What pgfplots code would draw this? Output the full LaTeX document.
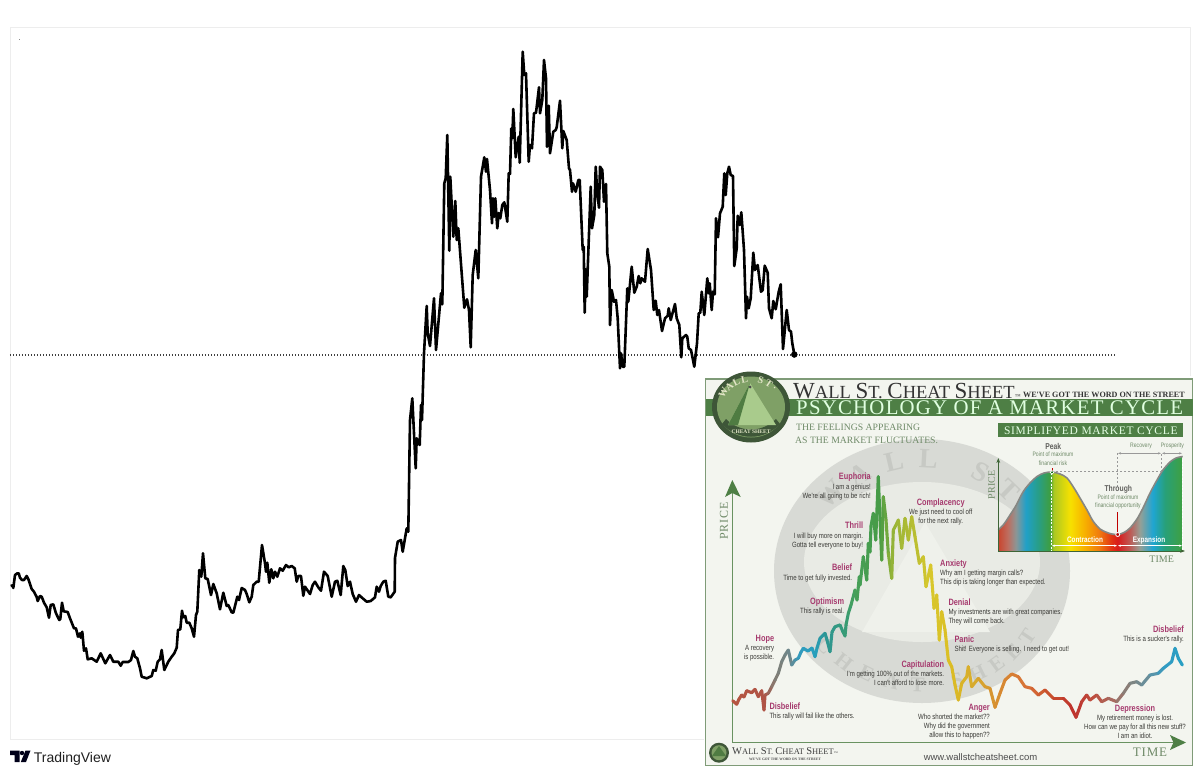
\documentclass[border=0pt]{standalone}
\usepackage{fontspec}
\usepackage{pgfplots}
\pgfplotsset{compat=1.18}
\usetikzlibrary{arrows.meta}
\setmainfont{Liberation Sans}
\newfontfamily\ser{Liberation Serif}
\newfontfamily\serl[LetterSpace=6]{Liberation Serif}
\newfontfamily\serw[LetterSpace=14]{Liberation Serif}
\newfontfamily\nar[FakeStretch=0.80]{Liberation Sans}
\newcommand{\fs}[1]{\fontsize{#1}{#1}\selectfont}
\definecolor{pnk}{HTML}{A63A6E}
\definecolor{ink}{HTML}{3A3A36}
\definecolor{gband}{HTML}{4E7F45}
\definecolor{gtxt}{HTML}{6F8A68}
\definecolor{gframe}{HTML}{7F9B78}
\definecolor{panel}{HTML}{F3F5EF}
\definecolor{lgring}{HTML}{3E5638}
\definecolor{lgin}{HTML}{7FA066}
\definecolor{lgpyr}{HTML}{A9CB8C}
\definecolor{lgface}{HTML}{4F7C42}
\definecolor{lgcream}{HTML}{E3E6C8}
\pgfdeclarehorizontalshading{cyc}{100bp}{
 rgb(0bp)=(.788,.271,.184);
 rgb(25bp)=(.788,.271,.184);
 rgb(27.6bp)=(.745,.431,.373);
 rgb(29.8bp)=(.549,.588,.588);
 rgb(32.5bp)=(.125,.627,.784);
 rgb(35.8bp)=(.157,.62,.529);
 rgb(39bp)=(.243,.62,.251);
 rgb(40bp)=(.667,.784,.137);
 rgb(44.5bp)=(.969,.882,0);
 rgb(48.5bp)=(.969,.686,0);
 rgb(52.5bp)=(.941,.471,.059);
 rgb(55.8bp)=(.882,.196,.078);
 rgb(57.4bp)=(.847,.106,.106);
 rgb(60.7bp)=(.745,.353,.333);
 rgb(63.4bp)=(.588,.627,.588);
 rgb(66.9bp)=(.118,.647,.824);
 rgb(70.2bp)=(.157,.627,.471);
 rgb(75bp)=(.247,.627,.251);
 rgb(100bp)=(.247,.627,.251)}
\pgfplotsset{pix/.style={scale only axis,width=1180pt,height=712pt,anchor=south west,at={(10pt,-739pt)},
  xmin=10,xmax=1190,ymin=27,ymax=739,y dir=reverse,xtick=\empty,ytick=\empty}}
\newcommand{\ttl}[4]{\node[anchor=#3,inner sep=0,text=pnk,font=\nar\bfseries\fs{9.2}] at (#1,#2) {#4};}
\newcommand{\txt}[4]{\node[anchor=#3,inner sep=0,text=ink,font=\nar\fs{7.6}] at (#1,#2) {#4};}
\begin{document}
\begin{tikzpicture}[x=1pt,y=-1pt]
\path[use as bounding box] (0,0) rectangle (1200,774);
\begin{axis}[pix,axis line style={draw=black!7,line width=0.8pt}]
\addplot[black!75,line width=1.1pt,dash pattern=on 1.1pt off 1.9pt] coordinates {(10,355)(1116,355)};
\addplot[black,line width=2.6pt,line join=round] coordinates {
(10.7,586)(12.7,585.3)(13.3,588)(15,575)(17.3,573.3)(18.7,573.3)(20,577.7)(22,580)(24,580)(26.7,576)(28.7,580)(31.7,589)(34,591.7)(36.7,597)(37.7,601)(40,596)(41.7,596.7)(44,602.7)(46.7,607.3)(49,617.7)(50.7,605)(53.3,604.3)(56,613.3)(59.3,620)(60.3,619)(62,602.7)(63.7,611.3)(67.7,612)(70,618.3)(74,628.3)(76,628.3)(78,636.7)(80,633.3)(80.7,637.7)(82.3,631.7)(84,650.7)(86,648.3)(87.7,659.3)(91.7,658.3)(96.7,661.7)(100.7,653.3)(105.3,663.3)(110,655)(113.3,661.7)(118.3,661.7)(120.7,665.7)(122.7,662)(128.3,662)(131,660)(133.3,651)(135,656.7)(137.3,658.3)(140,668.3)(141.7,676.7)(146.7,678.3)(151.7,676)(153.3,670)(155.7,670.7)(157.7,661.7)(160,659.3)(161.7,650)(164.3,670)(166.7,665)(168.3,661.7)(171.7,656.7)(174.3,653.3)(176.7,647.7)(178,630)(180.3,629.3)(182,610.7)(183.3,617.3)(185.3,616)(186.7,622.7)(189.3,622.7)(191.7,628.3)(194,636.7)(196,615)(197.3,611.7)(199.3,570)(201.3,576.7)(203,553.3)(205.3,578.3)(207.7,579)(211,595)(213.3,584)(216.7,593.3)(220,609.3)(223.3,592.7)(226.7,606)(228.3,605)(231.7,612.3)(233.3,612.7)(237.3,596.7)(239,600)(241.7,588)(245,590)(246.7,594)(249.3,602.3)(251.7,596.7)(253.3,585)(256.7,581.7)(258.7,581.7)(262,545)(265,563.3)(266,571.7)(267.3,562.7)(269.3,582.7)(271.3,569.3)(273.3,578.3)(275,571.7)(277.3,576.7)(280,568.3)(282.7,570.7)(286,565)(288.7,567.3)(291.7,566)(294.7,568.3)(296.7,581.7)(298.3,576)(301,576)(303.3,595.7)(305,586.7)(307.3,590)(310,594)(312.7,585)(315,581.7)(318.3,587.3)(321,590.7)(324,571.7)(327.7,576)(331.7,596.7)(335,581.7)(337.3,580.7)(340.7,595)(343.3,566)(345.3,570)(347.7,586)(350,581.7)(352.7,594)(356,601.7)(359,595)(362.7,598.3)(366.7,601.7)(370.7,601)(375,597.3)(376.7,586.7)(379,591.7)(380.7,586)(383.3,581.7)(385.7,580.7)(388.3,596.7)(390.7,597.3)(394.7,591.7)(395,558)(397.7,541.7)(401,540)(402.7,551.7)(406.7,528.3)(408.3,531.7)(410,420)(412.3,398.3)(415.7,468.3)(416.7,438.3)(419.7,445)(421,405)(422,420)(424,353.3)(426.7,306)(427.7,333.3)(430,346)(434,298.3)(436,350)(441,293.3)(442.3,304.3)(444.3,183.3)(445.7,178.3)(447.3,135)(449.3,250.7)(450.3,176.7)(453.3,236.7)(455.3,201)(456.7,240)(458.3,228.3)(461.7,273.3)(464.3,307.7)(467,299.3)(469,310)(470.7,347.3)(472.7,275)(475.7,250)(478.3,278.3)(481,176.7)(484.3,157.3)(486,171.7)(487,159)(490,190)(492,223.3)(493,198.3)(494.3,216.7)(495.3,198.3)(497.3,228.3)(498.7,213)(500.3,218.3)(502.3,205)(504.3,202.3)(507.3,221.7)(508.7,173.3)(510,174)(511.3,128.3)(512.3,138.3)(513.3,109)(515.7,157.3)(518.7,136.7)(519.7,162.7)(522.7,51.7)(524.3,75)(526,73.3)(528.7,161.7)(530,145)(532,148.3)(534,113.3)(536,112.7)(539,87.3)(540,113.3)(542.3,100)(544,60)(546,78.3)(547,146.7)(548.7,105.7)(550,153.3)(553.3,131.7)(555.7,130)(556.7,127.3)(560,100.7)(562.3,148.3)(563.3,131)(566.7,140)(569,168.3)(570,170)(572,191.7)(573,183.3)(575.7,191.7)(578.3,180)(579.7,180)(582.7,250)(583.7,246.7)(584.7,312.7)(585.7,269.3)(586.7,296.7)(590.7,186.7)(592,228.3)(594.3,215)(595.7,166.7)(597.3,193.3)(599,207.7)(600,166.7)(602.3,170)(604,201.7)(606,184)(607.3,253.3)(609.3,266.7)(610,325)(611.7,290)(614,301.7)(616,300)(617.7,318.3)(620,368.3)(621,353.3)(622.7,366.7)(624.3,366.7)(627.3,288.3)(628.3,301.7)(631.7,266.7)(634.3,292.7)(636.7,286.7)(638.7,276)(640.3,283.3)(641.7,278.3)(645,281.7)(647.7,249)(651,270)(653.7,310)(655.7,300.7)(657.3,315)(659,310)(662,331)(665,318.3)(667.7,315.7)(668.7,308.3)(670.7,320)(675,304)(676.7,318.3)(679.3,325)(681.3,357.3)(682.3,338.3)(686,335)(687.3,336.7)(688.7,348.3)(691,350)(694.3,366.7)(697,343.3)(698.7,313.3)(700.3,312.7)(701.7,291.7)(704.3,315)(707.3,278.3)(708.7,293.3)(709.7,283.3)(711.7,310)(713,291.7)(714.7,294.3)(716,218.3)(718,237.3)(720,213.3)(722.7,206.7)(724.3,173.3)(725.7,195)(727.3,173.3)(729,166.7)(730.7,175)(733,176)(734.3,266)(736.7,248.3)(737.7,215.7)(739.7,225)(741.3,212.3)(744,250)(746,318.3)(747,296.7)(748.7,308.3)(750.7,298.3)(753.3,252.7)(755,270)(757.7,265)(761,291.7)(762.7,290)(764.7,265.7)(767.7,272.7)(769,308.3)(771.7,318.3)(773.3,301)(775.7,309.3)(778.7,291.7)(780.7,284.3)(783,349)(786.7,310)(789,330)(791,331.7)(792.3,343.3)(794.3,354.3)};
\addplot[only marks,mark=*,mark size=3pt,black] coordinates {(794.3,354.5)};
\end{axis}
\fill[black!45] (18.6,38.6) rectangle (19.6,39.4);
% TradingView logo
\fill[black!90!blue] (10,750.5) -- (19.5,750.5) -- (19.5,762) -- (14.5,762) -- (14.5,755) -- (10,755) -- cycle;
\fill[black!90!blue] (22,753) circle (2.2);
\fill[black!90!blue] (25.5,750.5) -- (30.5,750.5) -- (26,762) -- (20.8,762) -- cycle;
\node[anchor=mid west,inner sep=0,font=\fs{14},text=black!88] at (33.7,760) {TradingView};
% inset panel
\fill[white] (704,376) rectangle (1194,768);
\draw[gframe,line width=1.4pt,fill=panel] (705.7,379) rectangle (1192.5,765.5);
% watermark
\fill[black!11!panel] (922,571) ellipse [x radius=148,y radius=132];
\fill[black!4!panel] (922,562) ellipse [x radius=118,y radius=80];
\fill[black!1.5!panel] (925,522) -- (862,632) -- (990,632) -- cycle;
\foreach \c/\a in {W/137,A/120,L/103,L/87,S/62,T/46}
  \node[font=\ser\bfseries\fs{28},text=black!18!panel,rotate=\a-90] at ({922+125*cos(\a)},{571-112*sin(\a)}) {\c};
\foreach \c/\a in {C/-140,H/-128,E/-116,A/-104,T/-92,S/-74,H/-64,E/-54,E/-44,T/-34}
  \node[font=\ser\bfseries\fs{21},text=black!18!panel,rotate=\a+90] at ({922+127*cos(\a)},{575-110*sin(\a)}) {\c};
% header band
\fill[gband] (705.7,399) rectangle (1192.5,415.5);
% banner
\fill[gband] (998.3,423.3) rectangle (1183.3,437.3);
\node[inner sep=0,text=white!90!green,font=\serl\fs{11.5}] at (1090.8,430.5) {SIMPLIFYED MARKET CYCLE};
% logo
\fill[lgring] (751,407) ellipse [x radius=39,y radius=35.5];
\fill[lgin] (751,407) ellipse [x radius=34,y radius=30.5];
\fill[lgring] (722,424) .. controls (738,441) and (764,441) .. (780,424) -- (776,419) .. controls (762,433) and (740,433) .. (726,419) -- cycle;
\fill[lgpyr] (750,383) -- (728,425) -- (776,425) -- cycle;
\fill[lgface] (750,383) -- (728,425) -- (738,425) -- cycle;
\fill[black!70] (750,387) circle (1.5);
\foreach \c/\a in {W/150,A/133,L/117,L/102,S/72,T/56,./42}
  \node[font=\ser\bfseries\fs{10},text=lgcream,rotate=\a-90] at ({751+32*cos(\a)},{407-28.5*sin(\a)}) {\c};
\node[inner sep=0,text=lgcream,font=\ser\bfseries\fs{5.5}] at (751,431.3) {CHEAT SHEET};
% footer logo
\fill[lgring] (719,752.7) circle (10);
\fill[lgin] (719,752.7) circle (7.5);
\fill[lgface] (719,746) -- (712,756) -- (726,756) -- cycle;
% price / time arrows
\draw[gband!85!white,line width=1.2pt] (732.3,490) -- (732.3,742.7) -- (1175,742.7);
\fill[gband] (732.3,480) -- (740.7,497) -- (732.3,493) -- (725,497) -- cycle;
\fill[gband] (1186,742.5) -- (1170,735) -- (1173.5,742.5) -- (1170,750) -- cycle;
% inset series
\begin{axis}[pix,hide axis]
\addplot[shade,shading=cyc,draw=none] coordinates {(998.3,551)(998.3,530)(1004,524)(1010,515)(1016,505.5)(1023,492)(1030,483)(1037,476.5)(1044,473)(1052,472)(1060,474)(1067,478)(1074,488)(1080,498)(1087,510)(1093,521)(1100,529)(1107,532.5)(1112,534)(1118,534.5)(1124,532.5)(1130,528)(1137,519)(1143,508)(1150,493)(1157,480)(1163,470)(1170,462)(1176,458)(1182.7,456.5)(1182.7,551)};
\addplot[black!45!panel,line width=1.6pt,smooth] coordinates {(998.3,530)(1004,524)(1010,515)(1016,505.5)(1023,492)(1030,483)(1037,476.5)(1044,473)(1052,472)(1060,474)(1067,478)(1074,488)(1080,498)(1087,510)(1093,521)(1100,529)(1107,532.5)(1112,534)(1118,534.5)(1124,532.5)(1130,528)(1137,519)(1143,508)(1150,493)(1157,480)(1163,470)(1170,462)(1176,458)(1182.7,456.5)};
\addplot[mesh,point meta=x,point meta min=733,point meta max=1182,line width=3.1pt,line cap=round,
 colormap={wall}{rgb255(0pt)=(181,85,65);rgb255(32pt)=(176,84,70);rgb255(42pt)=(130,125,115);rgb255(57pt)=(110,135,140);rgb255(67pt)=(50,155,190);rgb255(82pt)=(40,160,190);rgb255(92pt)=(45,150,150);rgb255(112pt)=(55,155,120);rgb255(122pt)=(70,160,90);rgb255(147pt)=(70,155,70);rgb255(160pt)=(150,180,55);rgb255(182pt)=(185,190,50);rgb255(197pt)=(215,200,45);rgb255(217pt)=(220,190,35);rgb255(242pt)=(215,170,45);rgb255(267pt)=(215,140,50);rgb255(297pt)=(215,110,55);rgb255(317pt)=(200,80,45);rgb255(342pt)=(190,50,45);rgb255(362pt)=(190,80,65);rgb255(382pt)=(165,110,100);rgb255(397pt)=(130,130,125);rgb255(417pt)=(100,145,160);rgb255(432pt)=(50,155,195);rgb255(449pt)=(40,160,195)}]
coordinates {(732.7,700.7)(736.7,704.3)(739,699)(741.7,695)(744,697)(746.7,690.7)(751.7,692.7)(755,689.3)(758.3,696.7)(761.7,690.7)(764,710)(765,695)(768.3,693.3)(771.7,686.7)(775,680)(778.3,673.3)(781.7,661.7)(785,655)(788.3,650)(791.7,665)(795,660)(798.3,658.3)(801,652)(803.3,648.3)(808,651)(812,648)(815,656.7)(817,648)(820,638.3)(825,633.3)(827,640)(830,651.7)(832,632)(835,626.7)(840,625)(843,632)(845,636)(846,625)(848.3,613.3)(851,605)(855,590)(857,600)(859.3,576.7)(860,585)(863.3,556.7)(866.7,580)(868.3,543.3)(870,552)(871,526)(873.3,513.3)(875.7,540)(878.3,476.7)(880,520)(881.7,560)(883.3,496.7)(886,520)(888.3,553.3)(891.7,578.3)(893.3,530)(896,525)(898.3,520)(901.7,548.3)(905,518.3)(908.3,540)(911.7,516.7)(915,536.7)(919.3,563.3)(923.3,556.7)(926,586.7)(930.7,565)(934,608.3)(936.7,595)(939.3,640)(941.7,611.7)(945,630)(948.3,660)(951.7,666.7)(955,685)(958.3,700)(961.7,683.3)(966.7,676.7)(968.3,666.7)(971.7,686.7)(978.3,678.3)(985,686.7)(990,688.3)(995,707.3)(1000,693.3)(1005,680)(1011.7,674)(1018.3,676.7)(1025,686.7)(1031.7,688.3)(1038.3,695)(1045,690)(1053.3,698.3)(1063.3,698.3)(1070,705)(1076,717.3)(1081.7,701.7)(1086.7,695)(1090,700)(1096.7,695)(1101.7,701.7)(1108.3,698.3)(1116.7,701.7)(1123.3,693.3)(1130,683.3)(1136.7,681.7)(1141.7,685)(1150,675)(1158.3,673.3)(1163.3,668.3)(1171.7,661.7)(1175,648.3)(1178.3,658.3)(1182.3,665)};
\end{axis}
% header texts
\node[anchor=mid west,inner sep=0,text=black!80,font=\ser] at (793,395.8) {{\fs{23}W}{\fs{18.5}ALL }{\fs{23}S}{\fs{18.5}T. }{\fs{23}C}{\fs{18.5}HEAT }{\fs{23}S}{\fs{18.5}HEET}{\fs{6}™}};
\node[anchor=mid west,inner sep=0,text=black!80,font=\ser\bfseries] at (1023,394.5) {\fs{8.1}WE'VE GOT THE WORD ON THE STREET};
\node[anchor=mid west,inner sep=0,text=white!88!green,font=\serl\fs{20.8}] at (796,411.5) {PSYCHOLOGY OF A MARKET CYCLE};
\node[anchor=mid west,inner sep=0,text=gtxt,font=\ser\fs{9.7}] at (796,427.5) {THE FEELINGS APPEARING};
\node[anchor=mid west,inner sep=0,text=gtxt,font=\ser\fs{9.7}] at (795,440.5) {AS THE MARKET FLUCTUATES.};
\node[rotate=90,inner sep=0,text=gtxt,font=\serl\fs{12}] at (724,521) {PRICE};
\node[inner sep=0,text=gtxt,font=\serl\fs{13}] at (1150,752) {TIME};
% cycle annotations
\draw[white,line width=0.9pt,dash pattern=on 2pt off 1.5pt] (1051.7,473) -- (1051.7,551);
\draw[white,line width=0.9pt,dash pattern=on 2pt off 1.5pt] (1182,460) -- (1182,551);
\draw[white,line width=0.8pt,{Stealth[length=3pt]}-{Stealth[length=3pt]}] (1052,545.7) -- (1117,545.7);
\draw[white,line width=0.8pt,{Stealth[length=3pt]}-{Stealth[length=3pt]}] (1118,545.7) -- (1182,545.7);
\draw[black!40,line width=0.8pt,dash pattern=on 2pt off 2pt] (1052,471.7) -- (1161.7,471.7);
\draw[black!40,line width=0.8pt,dash pattern=on 2pt off 2pt] (1161.7,471.7) -- (1161.7,453);
\draw[black!40,line width=0.8pt,dash pattern=on 2pt off 2pt] (1117.7,453) -- (1117.7,487);
\draw[black!40,line width=0.7pt,{Stealth[length=3pt]}-{Stealth[length=3pt]}] (1118,453.3) -- (1161,453.3);
\draw[black!40,line width=0.7pt,{Stealth[length=3pt]}-{Stealth[length=3pt]}] (1162,453.3) -- (1182,453.3);
\draw[red!75!black,line width=0.9pt] (1117.7,512) -- (1117.7,533);
\draw[white,fill=red!70!black,line width=0.8pt] (1117.7,534.5) circle (2);
\draw[red!75!black,line width=0.9pt] (1052,468) -- (1052,472);
\draw[white,fill=green!40!black,line width=0.7pt] (1052,472.3) circle (1.8);
\draw[gband!80!black,line width=1pt,-{Stealth[length=5pt]}] (998.3,551) -- (998.3,458);
\draw[gband!80!black,line width=1pt,-{Stealth[length=5pt]}] (998.3,551) -- (1185,551);
\node[font=\nar\bfseries\fs{8.5},text=ink!80,inner sep=0] at (1053.3,446.7) {Peak};
\node[font=\nar\fs{6.4},text=gtxt,inner sep=0] at (1053,454.7) {Point of maximum};
\node[font=\nar\fs{6.4},text=gtxt,inner sep=0] at (1053,463.3) {financial risk};
\node[font=\nar\bfseries\fs{8.5},text=ink!80,inner sep=0] at (1118.3,489) {Through};
\node[font=\nar\fs{6.4},text=gtxt,inner sep=0] at (1118,497.3) {Point of maximum};
\node[font=\nar\fs{6.4},text=gtxt,inner sep=0] at (1118,505.7) {financial opportunity};
\node[font=\nar\fs{6.4},text=gtxt,inner sep=0] at (1141,446) {Recovery};
\node[font=\nar\fs{6.4},text=gtxt,inner sep=0] at (1172.3,446) {Prosperity};
\node[font=\nar\bfseries\fs{8},text=white,inner sep=0] at (1085,540) {Contraction};
\node[font=\nar\bfseries\fs{8},text=white,inner sep=0] at (1149,540) {Expansion};
\node[rotate=90,font=\ser\fs{10},text=gtxt,inner sep=0] at (991.7,485) {PRICE};
\node[font=\ser\fs{10},text=gtxt,inner sep=0] at (1161.7,559.3) {TIME};
% labels
\ttl{871}{477.3}{mid east}{Euphoria}
\txt{871}{486.7}{mid east}{I am a genius!}
\txt{871}{495.7}{mid east}{We're all going to be rich!}
\ttl{940.7}{503}{mid}{Complacency}
\txt{940.7}{511.5}{mid}{We just need to cool off}
\txt{940.7}{520.5}{mid}{for the next rally.}
\ttl{863.3}{526}{mid east}{Thrill}
\txt{863.3}{535.7}{mid east}{I will buy more on margin.}
\txt{863.3}{544.7}{mid east}{Gotta tell everyone to buy!}
\ttl{852.3}{568.3}{mid east}{Belief}
\txt{852.3}{578.3}{mid east}{Time to get fully invested.}
\ttl{844.3}{601.7}{mid east}{Optimism}
\txt{844.3}{610.7}{mid east}{This rally is real.}
\ttl{774.3}{639}{mid east}{Hope}
\txt{774.3}{648.3}{mid east}{A recovery}
\txt{774.3}{657.3}{mid east}{is possible.}
\ttl{769.3}{706.7}{mid west}{Disbelief}
\txt{769.3}{716}{mid west}{This rally will fail like the others.}
\ttl{940}{564}{mid west}{Anxiety}
\txt{940}{572.7}{mid west}{Why am I getting margin calls?}
\txt{940}{582}{mid west}{This dip is taking longer than expected.}
\ttl{948.3}{602.7}{mid west}{Denial}
\txt{948.3}{612.3}{mid west}{My investments are with great companies.}
\txt{948.3}{620.7}{mid west}{They will come back.}
\ttl{954.3}{640}{mid west}{Panic}
\txt{954.3}{649}{mid west}{Shit! Everyone is selling. I need to get out!}
\ttl{944.3}{665.3}{mid east}{Capitulation}
\txt{944.3}{674.3}{mid east}{I'm getting 100\% out of the markets.}
\txt{944.3}{683.3}{mid east}{I can't afford to lose more.}
\ttl{990}{708}{mid east}{Anger}
\txt{990}{717}{mid east}{Who shorted the market??}
\txt{990}{726}{mid east}{Why did the government}
\txt{990}{735}{mid east}{allow this to happen??}
\ttl{1184}{630}{mid east}{Disbelief}
\txt{1184}{639.3}{mid east}{This is a sucker's rally.}
\ttl{1135}{709.3}{mid}{Depression}
\txt{1135}{718.3}{mid}{My retirement money is lost.}
\txt{1135}{727.3}{mid}{How can we pay for all this new stuff?}
\txt{1135}{735.7}{mid}{I am an idiot.}
% footer
\node[anchor=mid west,inner sep=0,text=black!75,font=\ser] at (732,751.5) {{\fs{10.5}W}{\fs{8.5}ALL }{\fs{10.5}S}{\fs{8.5}T. }{\fs{10.5}C}{\fs{8.5}HEAT }{\fs{10.5}S}{\fs{8.5}HEET}{\fs{4}™}};
\node[inner sep=0,text=black!70,font=\ser\bfseries\fs{3.6}] at (785,759.5) {WE'VE GOT THE WORD ON THE STREET};
\node[inner sep=0,text=black!70,font=\fs{9.5}] at (980.5,756.7) {www.wallstcheatsheet.com};
\end{tikzpicture}
\end{document}
